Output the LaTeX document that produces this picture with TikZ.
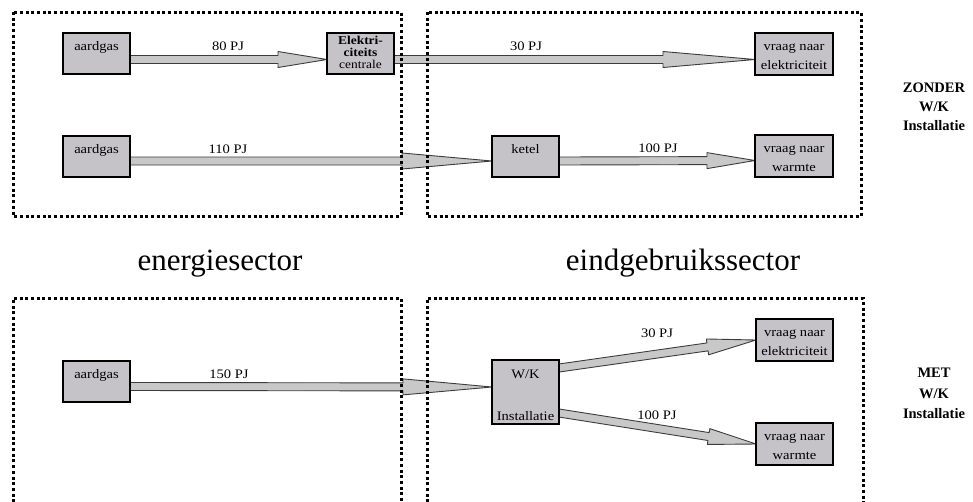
\documentclass[tikz,border=0pt]{standalone}
\usepackage{fontspec}
\setmainfont{Liberation Serif}
\newfontfamily\boxfont[FakeStretch=1.12]{Liberation Serif}
\usetikzlibrary{calc}
\definecolor{boxgray}{RGB}{198,195,200}
\definecolor{arrowgray}{RGB}{200,200,200}
\definecolor{arrowline}{RGB}{60,60,60}
\pgfdeclarelayer{flows}
\pgfsetlayers{flows,main}
\newcommand\ubox[4]{\parbox[c][#2][t]{#1}{\centering\rule{0pt}{#3}#4\par}}
\newcommand\flowarrow[3]{%
  \coordinate (fa) at #1;
  \coordinate (fb) at #2;
  \coordinate (fh) at ($(fb)!#3!(fa)$);
  \filldraw[flowbody] ($(fa)!4pt!90:(fb)$) -- ($(fh)!4pt!90:(fb)$) -- ($(fh)!8pt!90:(fb)$) -- (fb)
     -- ($(fh)!8pt!-90:(fb)$) -- ($(fh)!4pt!-90:(fb)$) -- ($(fa)!4pt!-90:(fb)$) -- cycle;}
\tikzset{
  sectorline/.style={draw=black, line width=3pt, dash pattern=on 3pt off 2.7pt},
  unit/.style={draw=black, line width=1.8pt, fill=boxgray, inner sep=0pt, outer sep=0pt,
    anchor=north west, font=\boxfont\fontsize{13}{19}\selectfont},
  flowbody/.style={fill=arrowgray, draw=arrowline, line width=0.9pt, line join=round},
  flowlabel/.style={font=\boxfont\fontsize{13}{13}\selectfont, inner sep=0pt, anchor=base},
  sidelabel/.style={font=\bfseries\fontsize{14.5}{19}\selectfont, align=center, inner sep=0pt, anchor=north},
  sectorlabel/.style={font=\fontsize{31}{31}\selectfont, inner sep=0pt, anchor=base}
}
\begin{document}
\begin{tikzpicture}[x=1pt, y=-1pt]
\useasboundingbox (0,0) rectangle (973,501);
\begin{scope}
\clip (0,0) rectangle (973,501);
% sector frames
\draw[sectorline] (13,12) rectangle (401,216);
\draw[sectorline] (427,12) rectangle (861,216);
\draw[sectorline] (13,508) -- (13,298) -- (401,298) -- (401,508);
\draw[sectorline] (427,508) -- (427,298) -- (863,298) -- (863,508);
\end{scope}

% upper diagram
\node[unit] (aardA) at (63,33) {\ubox{67pt}{41pt}{17pt}{aardgas}};
\node[unit] (elek) at (327,33) {\ubox{67pt}{41pt}{11.5pt}{\fontsize{12}{12}\selectfont\bfseries Elektri-\\citeits\\\mdseries centrale}};
\node[unit] (vraagE1) at (755,33) {\ubox{78pt}{42pt}{17pt}{vraag naar\\elektriciteit}};
\node[unit] (aardB) at (63,136) {\ubox{67pt}{41pt}{17pt}{aardgas}};
\node[unit] (ketel) at (492,136) {\ubox{67pt}{41pt}{17pt}{ketel}};
\node[unit] (vraagW1) at (755,135) {\ubox{78pt}{42pt}{17pt}{vraag naar\\warmte}};

% lower diagram
\node[unit] (aardC) at (63,361) {\ubox{67pt}{41pt}{17pt}{aardgas}};
\node[unit] (wk) at (492,360) {\ubox{67pt}{64pt}{18pt}{W/K\\[23pt]Installatie}};
\node[unit] (vraagE2) at (756,319) {\ubox{77pt}{42pt}{17pt}{vraag naar\\elektriciteit}};
\node[unit] (vraagW2) at (756,423) {\ubox{77pt}{42pt}{17pt}{vraag naar\\warmte}};

% flow labels
\node[flowlabel] (l80) at (228,50) {80 PJ};
\node[flowlabel] (l110) at (228,153) {110 PJ};
\node[flowlabel] (l30a) at (526,50) {30 PJ};
\node[flowlabel] (l100a) at (658,152) {100 PJ};
\node[flowlabel] (l150) at (229,378) {150 PJ};
\node[flowlabel] (l30b) at (657,337) {30 PJ};
\node[flowlabel] (l100b) at (657,419) {100 PJ};

% sector labels
\node[sectorlabel] (energie) at (220,270) {energiesector};
\node[sectorlabel] (eind) at (683,270) {eindgebruikssector};

% side labels
\node[sidelabel] (zonder) at (934,83) {ZONDER\\W/K\\Installatie};
\node[sidelabel, font=\bfseries\fontsize{14.5}{20.5}\selectfont] (met) at (934,368) {MET\\W/K\\Installatie};

% flows
\begin{pgfonlayer}{flows}
\flowarrow{([yshift=-6pt]aardA.east)}{([yshift=-6pt]elek.west)}{49pt}
\flowarrow{([yshift=-6pt]elek.east)}{([yshift=-5.5pt]vraagE1.west)}{92pt}
\flowarrow{([yshift=-4.5pt]aardB.east)}{([yshift=-4.5pt]ketel.west)}{90pt}
\flowarrow{([yshift=-4.5pt]ketel.east)}{([yshift=-4.5pt]vraagW1.west)}{48pt}
\flowarrow{([yshift=-5pt]aardC.east)}{([yshift=5pt]wk.west)}{89pt}
\flowarrow{([yshift=24pt]wk.east)}{(vraagE2.west)}{49pt}
\flowarrow{([yshift=-21pt]wk.east)}{(vraagW2.west)}{48pt}
\end{pgfonlayer}
\end{tikzpicture}
\end{document}
